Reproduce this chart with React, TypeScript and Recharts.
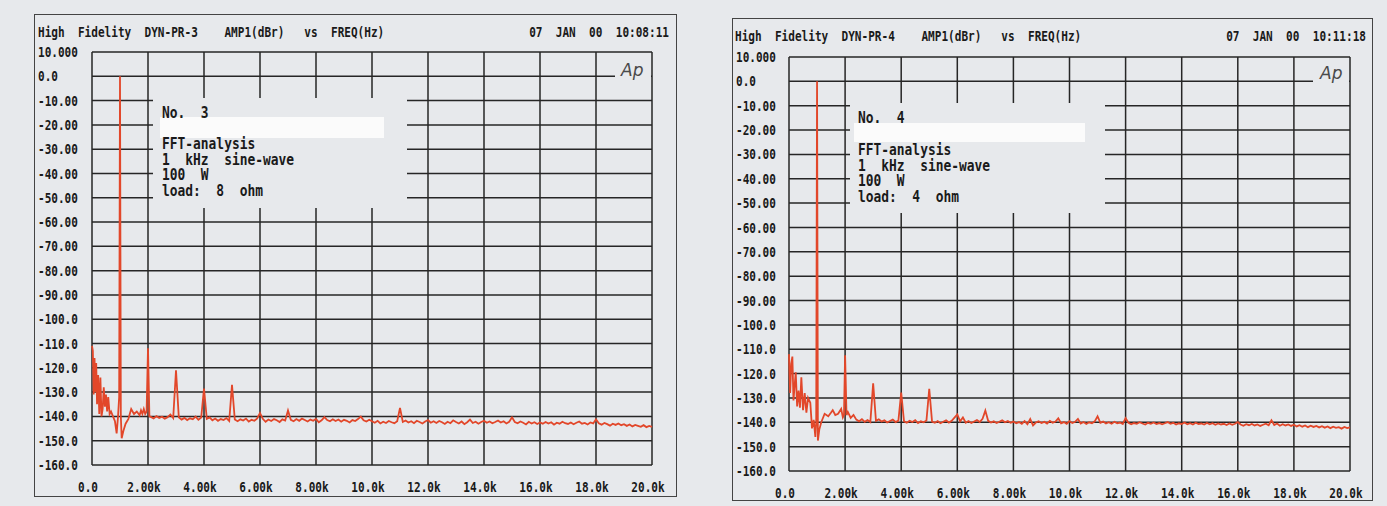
import { LineChart, Line, XAxis, YAxis, CartesianGrid } from 'recharts'

// frequency in kHz, level in dBr
const xTicks = [0, 2, 4, 6, 8, 10, 12, 14, 16, 18, 20]
const xLabels = ['0.0', '2.00k', '4.00k', '6.00k', '8.00k', '10.0k', '12.0k', '14.0k', '16.0k', '18.0k', '20.0k']
const yTicks = [10, 0, -10, -20, -30, -40, -50, -60, -70, -80, -90, -100, -110, -120, -130, -140, -150, -160]
const yLabels = ['10.000', '0.0', '-10.00', '-20.00', '-30.00', '-40.00', '-50.00', '-60.00', '-70.00', '-80.00', '-90.00',
  '-100.0', '-110.0', '-120.0', '-130.0', '-140.0', '-150.0', '-160.0']

// below 2 kHz, read point by point
const lowFreq3 = [0, 0.03, 0.06, 0.09, 0.12, 0.15, 0.18, 0.22, 0.26, 0.3, 0.34, 0.38, 0.42, 0.46, 0.5, 0.54, 0.58, 0.63,
  0.68, 0.75, 0.82, 0.88, 0.93, 0.97, 1.0, 1.03, 1.06, 1.12, 1.2, 1.3, 1.4, 1.5, 1.6, 1.7, 1.75, 1.8, 1.85, 1.9, 1.95, 2.0, 2.05]
const lowLevel3 = [-111, -113, -131, -116, -130, -118, -135, -123, -139, -124, -140, -137, -128, -136, -131, -138, -132, -139,
  -138, -140, -142, -147, -140, -132, 0, -140, -149, -146, -143, -141, -137, -139, -138, -139.5, -137.5, -139, -137, -139, -138, -112, -140]

const lowFreq4 = [0, 0.04, 0.08, 0.12, 0.16, 0.2, 0.24, 0.29, 0.34, 0.39, 0.44, 0.5, 0.56, 0.62, 0.68, 0.76, 0.82, 0.88,
  0.94, 0.97, 1.0, 1.03, 1.08, 1.15, 1.27, 1.4, 1.5, 1.56, 1.65, 1.75, 1.86, 1.92, 1.96, 2.0, 2.05]
const lowLevel4 = [-112, -128, -116, -113, -131, -125, -119.5, -133.5, -127, -134, -121.5, -135, -128, -136, -130, -132, -142.5, -139,
  -146, -140, 0, -147.5, -143, -140, -136.5, -137.5, -136, -135, -137, -136.5, -134.5, -138, -137, -112.5, -137]

// 2.1 .. 20.0 kHz bins
const binFreq = [
  2.1, 2.2, 2.3, 2.4, 2.5, 2.6, 2.7, 2.8, 2.9, 3.0,
  3.1, 3.2, 3.3, 3.4, 3.5, 3.6, 3.7, 3.8, 3.9, 4.0,
  4.1, 4.2, 4.3, 4.4, 4.5, 4.6, 4.7, 4.8, 4.9, 5.0,
  5.1, 5.2, 5.3, 5.4, 5.5, 5.6, 5.7, 5.8, 5.9, 6.0,
  6.1, 6.2, 6.3, 6.4, 6.5, 6.6, 6.7, 6.8, 6.9, 7.0,
  7.1, 7.2, 7.3, 7.4, 7.5, 7.6, 7.7, 7.8, 7.9, 8.0,
  8.1, 8.2, 8.3, 8.4, 8.5, 8.6, 8.7, 8.8, 8.9, 9.0,
  9.1, 9.2, 9.3, 9.4, 9.5, 9.6, 9.7, 9.8, 9.9, 10.0,
  10.1, 10.2, 10.3, 10.4, 10.5, 10.6, 10.7, 10.8, 10.9, 11.0,
  11.1, 11.2, 11.3, 11.4, 11.5, 11.6, 11.7, 11.8, 11.9, 12.0,
  12.1, 12.2, 12.3, 12.4, 12.5, 12.6, 12.7, 12.8, 12.9, 13.0,
  13.1, 13.2, 13.3, 13.4, 13.5, 13.6, 13.7, 13.8, 13.9, 14.0,
  14.1, 14.2, 14.3, 14.4, 14.5, 14.6, 14.7, 14.8, 14.9, 15.0,
  15.1, 15.2, 15.3, 15.4, 15.5, 15.6, 15.7, 15.8, 15.9, 16.0,
  16.1, 16.2, 16.3, 16.4, 16.5, 16.6, 16.7, 16.8, 16.9, 17.0,
  17.1, 17.2, 17.3, 17.4, 17.5, 17.6, 17.7, 17.8, 17.9, 18.0,
  18.1, 18.2, 18.3, 18.4, 18.5, 18.6, 18.7, 18.8, 18.9, 19.0,
  19.1, 19.2, 19.3, 19.4, 19.5, 19.6, 19.7, 19.8, 19.9, 20.0,
]

const binLevel3 = [
  -140.2, -140.8, -139.9, -140.6, -140.1, -140.9, -140.3, -139.2, -140.7, -121,
  -140.4, -141.3, -140.6, -141.5, -140.8, -141.2, -140.1, -141.4, -140.5, -128.5,
  -141.0, -140.4, -141.6, -140.9, -141.8, -141.1, -141.5, -140.7, -141.9, -127,
  -141.3, -142.0, -141.2, -141.7, -140.9, -142.1, -141.4, -141.8, -140.8, -138.6,
  -141.0, -142.2, -141.3, -141.9, -141.1, -141.6, -142.3, -141.2, -141.7, -137.6,
  -141.4, -142.0, -141.1, -141.8, -140.9, -141.5, -142.1, -141.3, -141.8, -141.0,
  -142.4, -141.6, -140.3, -141.5, -142.0, -141.2, -141.9, -141.3, -142.2, -141.4,
  -141.8, -142.5, -141.5, -141.9, -141.1, -140.1, -141.6, -142.1, -141.4, -142.0,
  -142.6, -141.8, -142.9, -142.2, -142.7, -141.9, -142.4, -142.8, -142.0, -136.5,
  -142.3, -141.7, -142.5, -142.0, -142.8, -141.8, -142.3, -142.9, -142.1, -141.5,
  -142.6, -142.0, -142.7, -141.9, -142.4, -143.1, -142.2, -142.8, -141.6, -142.3,
  -142.9, -142.1, -143.2, -142.4, -141.3, -142.7, -142.2, -143.0, -142.3, -141.8,
  -142.6, -142.1, -142.8, -142.3, -141.7, -142.5, -142.0, -142.9, -142.2, -140.4,
  -142.3, -142.8, -142.1, -142.6, -143.3, -142.2, -142.9, -142.4, -143.1, -142.5,
  -143.0, -142.3, -142.9, -142.4, -143.4, -142.6, -143.0, -142.2, -142.8, -143.1,
  -142.5, -143.2, -142.6, -142.1, -143.0, -142.7, -143.3, -142.5, -142.9, -141.2,
  -142.8, -143.4, -142.7, -143.2, -143.8, -143.0, -143.5, -142.9, -143.6, -143.2,
  -143.9, -143.3, -144.1, -143.5, -143.9, -144.3, -143.6, -144.4, -143.9, -144.3,
]

const binLevel4 = [
  -135.8, -138.2, -137.0, -138.9, -139.6, -138.7, -139.8, -139.1, -139.9, -124,
  -139.4, -138.8, -139.7, -139.2, -140.1, -139.5, -138.9, -139.9, -139.3, -127.8,
  -139.6, -140.2, -139.4, -139.9, -139.1, -140.3, -139.6, -140.0, -139.3, -126.3,
  -139.7, -140.2, -139.5, -140.4, -139.8, -139.2, -140.1, -139.4, -138.1, -136.8,
  -139.6, -138.0, -140.2, -139.5, -140.3, -139.7, -139.1, -139.9, -138.6, -135.2,
  -139.4, -140.1, -139.6, -140.3, -139.8, -139.2, -140.0, -139.5, -140.2, -139.7,
  -140.4, -139.9, -140.6, -139.5, -140.8, -138.7, -141.3, -140.1, -139.6, -140.3,
  -139.8, -140.5, -139.4, -140.2, -139.7, -138.4, -140.4, -139.9, -140.6, -139.5,
  -140.3, -139.8, -138.6, -140.5, -139.9, -140.7, -140.0, -140.4, -139.6, -137.5,
  -140.2, -139.7, -140.5, -140.0, -140.6, -139.8, -140.4, -140.1, -140.7, -138.3,
  -140.2, -140.8, -140.3, -140.6, -140.0, -140.5, -140.9, -140.2, -140.6, -140.1,
  -140.7, -140.3, -140.8, -140.4, -139.9, -140.6, -140.2, -140.9, -140.4, -140.7,
  -140.1, -140.8, -140.4, -140.9, -140.2, -140.7, -140.5, -140.9, -140.3, -140.8,
  -140.4, -141.0, -140.5, -140.9, -140.6, -141.1, -140.5, -141.0, -140.6, -139.9,
  -140.9, -141.4, -140.8, -141.2, -140.7, -141.3, -140.9, -141.5, -141.0, -140.6,
  -141.2, -139.2, -141.1, -140.5, -141.4, -140.8, -141.3, -140.9, -141.5, -141.0,
  -141.7, -141.2, -141.8, -141.3, -142.0, -141.4, -141.9, -141.5, -142.1, -141.6,
  -142.2, -141.7, -142.4, -141.8, -142.3, -142.0, -142.6, -141.9, -142.4, -142.1,
]

const notes3 = ['FFT-analysis', '1  kHz  sine-wave', '100  W', 'load:  8  ohm']
const notes4 = ['FFT-analysis', '1  kHz  sine-wave', '100  W', 'load:  4  ohm']

const toRows = (lf: number[], ll: number[], bl: number[]) => [
  ...lf.map((f, i) => ({ f, db: ll[i] })),
  ...binFreq.map((f, i) => ({ f, db: bl[i] })),
]

const PAPER = '#e7e9ec'
const INK = '#1a1a1a'
const TRACE = '#e2472a'
const mono = '"DejaVu Sans Mono", "Liberation Mono", monospace'

function Plot({ rows, left, top, width, height, margin, yAxisWidth, xAxisHeight }: any) {
  const YTick = (p: any) => (
    <text
      transform={`translate(4,${p.y}) scale(0.79,1)`}
      dy="0.36em"
      textAnchor="start"
      fill={INK}
      style={{ fontFamily: mono, fontSize: 14, fontWeight: 700 }}
    >
      {yLabels[yTicks.indexOf(p.payload.value)]}
    </text>
  )
  const XTick = (p: any) => (
    <text
      transform={`translate(${p.x - 4},${p.y + 22}) scale(0.79,1)`}
      dy="0.36em"
      textAnchor="middle"
      fill={INK}
      style={{ fontFamily: mono, fontSize: 14, fontWeight: 700 }}
    >
      {xLabels[xTicks.indexOf(p.payload.value)]}
    </text>
  )
  return (
    <div style={{ position: 'absolute', left, top }}>
      <LineChart width={width} height={height} data={rows} margin={margin}>
        <CartesianGrid stroke="#262626" strokeWidth={1.5} />
        <XAxis type="number" dataKey="f" domain={[0, 20]} ticks={xTicks} tick={XTick}
          axisLine={false} tickLine={false} tickSize={0} tickMargin={0} height={xAxisHeight} interval={0} />
        <YAxis type="number" domain={[-160, 10]} ticks={yTicks} tick={YTick}
          axisLine={false} tickLine={false} width={yAxisWidth} interval={0} />
        <Line type="linear" dataKey="db" stroke={TRACE} strokeWidth={1.8} dot={false} isAnimationActive={false} />
      </LineChart>
    </div>
  )
}

const abs = (l: number, t: number, w: number, h: number, extra: any = {}) => ({
  position: 'absolute' as const, left: l, top: t, width: w, height: h, ...extra,
})

const textStyle = (size: number, sx: number) => ({
  fontFamily: mono, fontWeight: 700, fontSize: size, color: INK, whiteSpace: 'pre' as const,
  transform: `scaleX(${sx})`, transformOrigin: 'left top',
})

export default function App() {
  return (
    <div style={abs(0, 0, 1387, 506, { background: PAPER, overflow: 'hidden' })}>
      {/* frames */}
      <div style={abs(34, 14, 643, 483, { border: '1.4px solid #444', boxSizing: 'border-box' })} />
      <div style={abs(732, 18, 641, 483, { border: '1.4px solid #444', boxSizing: 'border-box' })} />

      {/* headers */}
      <div style={{ ...abs(38, 25, 520, 15), ...textStyle(14, 0.79), lineHeight: '14px' }}>
        {'High  Fidelity  DYN-PR-3    AMP1(dBr)   vs  FREQ(Hz)'}
      </div>
      <div style={{ ...abs(449, 25, 220, 15), ...textStyle(14, 0.79), lineHeight: '14px', textAlign: 'right', transformOrigin: 'right top' }}>
        {'07  JAN  00  10:08:11'}
      </div>
      <div style={{ ...abs(735, 29, 520, 15), ...textStyle(14, 0.79), lineHeight: '14px' }}>
        {'High  Fidelity  DYN-PR-4    AMP1(dBr)   vs  FREQ(Hz)'}
      </div>
      <div style={{ ...abs(1146, 29, 220, 15), ...textStyle(14, 0.79), lineHeight: '14px', textAlign: 'right', transformOrigin: 'right top' }}>
        {'07  JAN  00  10:11:18'}
      </div>

      <Plot rows={toRows(lowFreq3, lowLevel3, binLevel3)} left={34} top={14} width={643} height={483}
        margin={{ top: 38, right: 25, bottom: 0, left: 4 }} yAxisWidth={54} xAxisHeight={32} />
      <Plot rows={toRows(lowFreq4, lowLevel4, binLevel4)} left={732} top={18} width={641} height={483}
        margin={{ top: 39, right: 23, bottom: 0, left: 4 }} yAxisWidth={53} xAxisHeight={30} />

      {/* annotation boxes that hide the grid */}
      <div style={abs(153, 98, 254, 110, { background: PAPER })} />
      <div style={abs(850, 103, 255, 110, { background: PAPER })} />
      <div style={abs(160, 117, 224, 21, { background: '#fbfbfb' })} />
      <div style={abs(854, 123, 231, 19, { background: '#fbfbfb' })} />

      <div style={{ ...abs(162, 105, 200, 16), ...textStyle(15, 0.86), lineHeight: '16px' }}>{'No.  3'}</div>
      <div style={{ ...abs(162, 137, 240, 70), ...textStyle(15, 0.86), lineHeight: '15.7px' }}>
        {notes3.map((t) => <div key={t}>{t}</div>)}
      </div>
      <div style={{ ...abs(858, 110, 200, 16), ...textStyle(15, 0.86), lineHeight: '16px' }}>{'No.  4'}</div>
      <div style={{ ...abs(858, 143, 240, 70), ...textStyle(15, 0.86), lineHeight: '15.5px' }}>
        {notes4.map((t) => <div key={t}>{t}</div>)}
      </div>

      {/* Ap marks */}
      <div style={abs(615, 62, 36, 22, { background: PAPER })} />
      <div style={abs(621, 60, 30, 20, { fontFamily: '"DejaVu Sans", sans-serif', fontSize: 17, fontStyle: 'italic', fontWeight: 200, color: '#4a4a4a' })}>Ap</div>
      <div style={abs(1313, 67, 36, 22, { background: PAPER })} />
      <div style={abs(1320, 63, 30, 20, { fontFamily: '"DejaVu Sans", sans-serif', fontSize: 17, fontStyle: 'italic', fontWeight: 200, color: '#4a4a4a' })}>Ap</div>
    </div>
  )
}
